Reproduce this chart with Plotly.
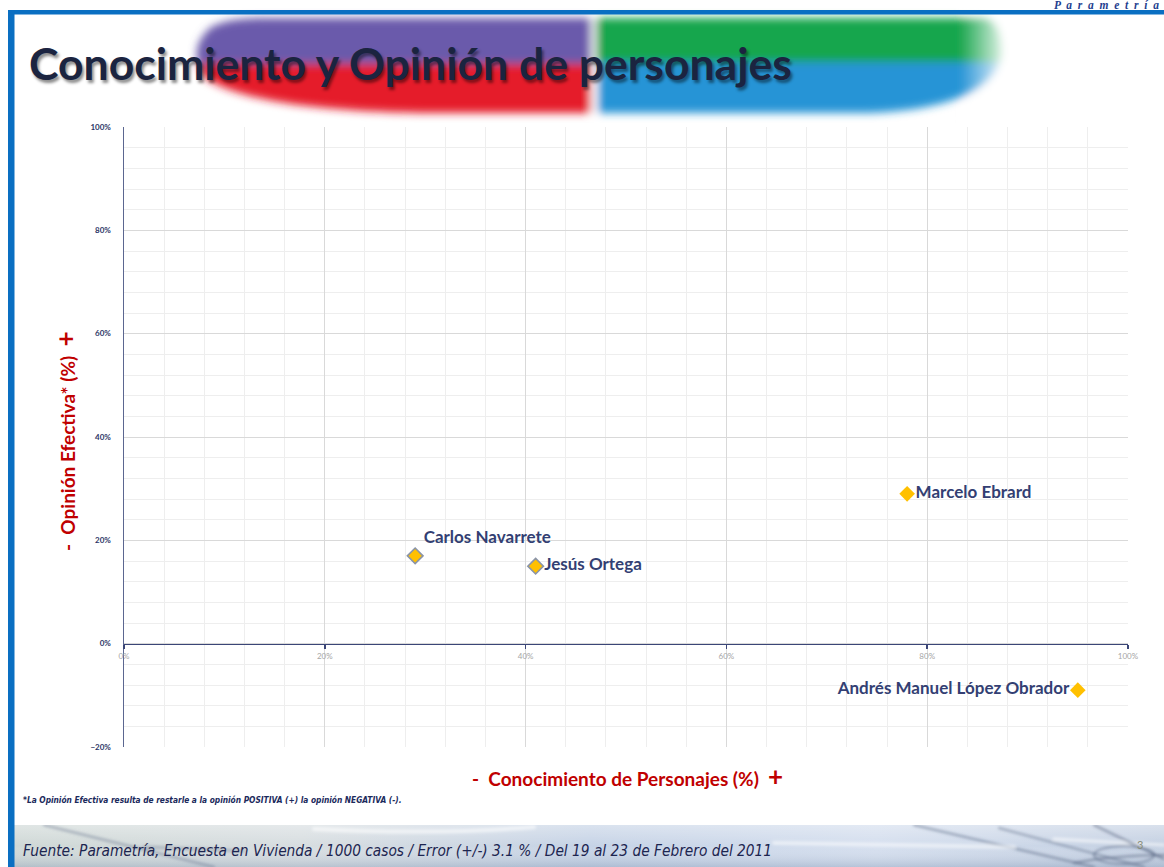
import base64
import plotly.graph_objects as go

# ---------------- data ----------------
names = ["Carlos Navarrete", "Jesús Ortega", "Marcelo Ebrard", "Andrés Manuel López Obrador"]
conocimiento = [29, 41, 78, 95]      # % conocimiento (x)
opinion = [17, 15, 29, -9]           # % opinión efectiva (y)
label_pos = ["top right", "middle right", "middle right", "middle left"]
outlined = [True, True, False, False]

x_range = [0, 100]
y_range = [-20, 100]

title_text = "Conocimiento y Opinión de personajes"
x_title = "Conocimiento de Personajes (%)"
y_title = "Opinión Efectiva* (%)"
footnote = "*La Opinión Efectiva resulta de restarle a la opinión POSITIVA (+) la opinión NEGATIVA (-)."
source = "Fuente: Parametría, Encuesta en Vivienda / 1000 casos / Error (+/-) 3.1 % / Del 19 al 23 de Febrero del 2011"
brand = "P  a  r  a  m  e  t  r  í  a"
page_no = "3"

# ---------------- layout geometry (pixels) ----------------
W, H = 1164, 867
L, R, T, B = 124, 1128, 127, 747


def px(x):
    return (x - L) / (R - L)


def py(y):
    return (B - y) / (B - T)


RED = "#c00000"
COND = "DejaVu Sans Condensed, Lato, sans-serif"

fig = go.Figure()

fig.add_trace(go.Scatter(
    x=conocimiento, y=opinion, text=names,
    mode="markers+text",
    textposition=label_pos,
    textfont=dict(family="Lato", size=17, color="#333f73", weight="bold"),
    marker=dict(symbol="diamond", size=12, color="#ffc000",
                line=dict(color=["#8a94a8" if o else "#ffc000" for o in outlined],
                          width=[1.6 if o else 0 for o in outlined])),
    hoverinfo="skip", showlegend=False, cliponaxis=False,
))

# ---------------- decorative images ----------------
title_svg = """<svg xmlns='http://www.w3.org/2000/svg' width='860' height='116' viewBox='180 8 860 116'>
<defs>
<filter id='b' x='-5%' y='-20%' width='110%' height='140%'><feGaussianBlur stdDeviation='4.5'/></filter>
<clipPath id='c'><path d='M 262,18 L 985,18 Q 1002,22 1002,55 Q 990,108 870,113 L 420,113 Q 255,110 205,78 Q 186,50 210,28 Q 226,18 262,18 Z'/></clipPath>
<linearGradient id='fade' x1='0' x2='1' y1='0' y2='0'>
<stop offset='0' stop-color='white' stop-opacity='0'/><stop offset='1' stop-color='white' stop-opacity='1'/>
</linearGradient>
</defs>
<g filter='url(#b)'>
<g clip-path='url(#c)'>
<rect x='180' y='10' width='412' height='54' fill='#6a5aab'/>
<rect x='180' y='64' width='412' height='60' fill='#e51f2b'/>
<rect x='596' y='10' width='440' height='52' fill='#18a64e'/>
<rect x='598' y='62' width='440' height='62' fill='#2594d6'/>
<rect x='591' y='10' width='5' height='114' fill='white'/>
</g>
<rect x='960' y='10' width='50' height='110' fill='url(#fade)'/>
</g>
</svg>"""

footer_svg = """<svg xmlns='http://www.w3.org/2000/svg' width='1150' height='42' viewBox='0 0 1150 42'>
<defs>
<linearGradient id='g' x1='0' x2='1' y1='0' y2='0'>
<stop offset='0' stop-color='#cfd8d6'/><stop offset='0.25' stop-color='#d7dde0'/>
<stop offset='0.5' stop-color='#c6d3e6'/><stop offset='0.75' stop-color='#d4deee'/>
<stop offset='1' stop-color='#c4d0e2'/>
</linearGradient>
<linearGradient id='v' x1='0' x2='0' y1='0' y2='1'>
<stop offset='0' stop-color='white' stop-opacity='0.35'/><stop offset='0.5' stop-color='white' stop-opacity='0'/>
<stop offset='1' stop-color='#7f93b0' stop-opacity='0.35'/>
</linearGradient>
<filter id='s'><feGaussianBlur stdDeviation='1.4'/></filter>
</defs>
<rect width='1150' height='42' fill='url(#g)'/>
<rect width='1150' height='42' fill='url(#v)'/>
<g filter='url(#s)' fill='none' stroke-linecap='round'>
<path d='M 30,0 L 200,42' stroke='#5b6a86' stroke-width='2' opacity='0.5'/>
<path d='M 130,22 L 230,26' stroke='#6e7a90' stroke-width='3' opacity='0.4'/>
<path d='M 300,4 Q 420,10 520,2' stroke='#ffffff' stroke-width='4' opacity='0.6'/>
<path d='M 900,0 L 1080,42' stroke='#4f5f7c' stroke-width='2' opacity='0.55'/>
<path d='M 985,3 L 1130,42' stroke='#4f5f7c' stroke-width='2' opacity='0.5'/>
<path d='M 1040,14 L 1150,20' stroke='#ffffff' stroke-width='3' opacity='0.6'/>
<path d='M 1080,0 L 1150,34' stroke='#3f4e6c' stroke-width='2' opacity='0.5'/>
<path d='M 1160,30 Q 1100,30 1060,38' stroke='#3f4e6c' stroke-width='2' opacity='0.5'/>
<ellipse cx='1110' cy='30' rx='30' ry='9' stroke='#4a5a78' stroke-width='2' opacity='0.5'/>
<path d='M 760,18 L 1000,22' stroke='#ffffff' stroke-width='4' opacity='0.55'/>
</g>
</svg>"""


def uri(svg):
    return "data:image/svg+xml;base64," + base64.b64encode(svg.encode("utf-8")).decode("ascii")


images = [
    dict(source=uri(title_svg), xref="paper", yref="paper",
         x=px(180), y=py(8), sizex=px(1040) - px(180), sizey=py(8) - py(124),
         xanchor="left", yanchor="top", sizing="stretch", layer="below"),
    dict(source=uri(footer_svg), xref="paper", yref="paper",
         x=px(14), y=py(825), sizex=px(1164) - px(14), sizey=py(825) - py(867),
         xanchor="left", yanchor="top", sizing="stretch", layer="below"),
]

shapes = [
    # blue frame: top line and left bar
    dict(type="rect", xref="paper", yref="paper", x0=px(8), x1=px(1170), y0=py(10), y1=py(14.5),
         fillcolor="#0a6fc2", line=dict(width=0), layer="above"),
    dict(type="rect", xref="paper", yref="paper", x0=px(8), x1=px(14.5), y0=py(10), y1=py(870),
         fillcolor="#0a6fc2", line=dict(width=0), layer="above"),
]

annotations = [
    dict(text=title_text, xref="paper", yref="paper", x=px(27), y=py(62),
         xanchor="left", yanchor="middle", showarrow=False,
         font=dict(family="Lato", size=44.5, color="#1b2440", weight="bold",
                   shadow="2px 3px 3px rgba(0,0,0,0.45)")),
    dict(text=brand, xref="paper", yref="paper", x=px(1161), y=py(5),
         xanchor="right", yanchor="middle", showarrow=False,
         font=dict(family="Liberation Serif", size=11.5, color="#1f3f8f", style="italic", weight="bold")),
    dict(text="<b>-</b>  " + x_title + "  <span style='font-size:26px'><b>+</b></span>",
         xref="paper", yref="paper", x=px(627), y=py(776),
         xanchor="center", yanchor="middle", showarrow=False,
         font=dict(family="Lato", size=19, color=RED, weight="bold")),
    dict(text="<b>-</b>  " + y_title + "  <span style='font-size:26px'><b>+</b></span>",
         xref="paper", yref="paper", x=px(65), y=py(441), textangle=-90,
         xanchor="center", yanchor="middle", showarrow=False,
         font=dict(family="Lato", size=19, color=RED, weight="bold")),
    dict(text=footnote, xref="paper", yref="paper", x=px(21), y=py(800),
         xanchor="left", yanchor="middle", showarrow=False,
         font=dict(family=COND, size=8.3, color="#1b2a5c", style="italic", weight="bold")),
    dict(text=source, xref="paper", yref="paper", x=px(21), y=py(851),
         xanchor="left", yanchor="middle", showarrow=False,
         font=dict(family=COND, size=15.3, color="#1c2550", style="italic")),
    dict(text=page_no, xref="paper", yref="paper", x=px(1140), y=py(845),
         xanchor="center", yanchor="middle", showarrow=False,
         font=dict(family="Lato", size=11, color="#8a8f7a")),
]

zero_pos = (0 - y_range[0]) / (y_range[1] - y_range[0])

fig.update_layout(
    width=W, height=H,
    margin=dict(l=L, r=W - R, t=T, b=H - B, pad=0),
    paper_bgcolor="white", plot_bgcolor="white",
    showlegend=False,
    images=images, shapes=shapes, annotations=annotations,
    xaxis=dict(
        range=x_range, dtick=20, tick0=0, ticksuffix="%",
        anchor="free", position=zero_pos,
        showline=True, linecolor="#3b4677", linewidth=1.5,
        ticks="outside", ticklen=4, tickcolor="#3b4677", tickwidth=1.5,
        tickfont=dict(family="Lato", size=8, color="#a6a6a6"),
        showgrid=True, gridcolor="#d9d9d9", gridwidth=1,
        minor=dict(dtick=4, tick0=0, showgrid=True, gridcolor="#eeeeee", gridwidth=1, ticks=""),
        zeroline=False, fixedrange=True,
    ),
    yaxis=dict(
        range=y_range, dtick=20, tick0=0, ticksuffix="%",
        showline=True, linecolor="#5b6690", linewidth=1.5,
        ticks="", ticklabelstandoff=10,
        tickfont=dict(family="Lato", size=8, color="#2b3566", weight="bold"),
        showgrid=True, gridcolor="#d9d9d9", gridwidth=1,
        minor=dict(dtick=4, tick0=0, showgrid=True, gridcolor="#eeeeee", gridwidth=1, ticks=""),
        zeroline=False, fixedrange=True,
    ),
)

fig.write_html(
    "out.html",
    config={"displayModeBar": False, "staticPlot": True},
    post_script="document.body.style.margin='0';document.body.style.overflow='hidden';",
)
